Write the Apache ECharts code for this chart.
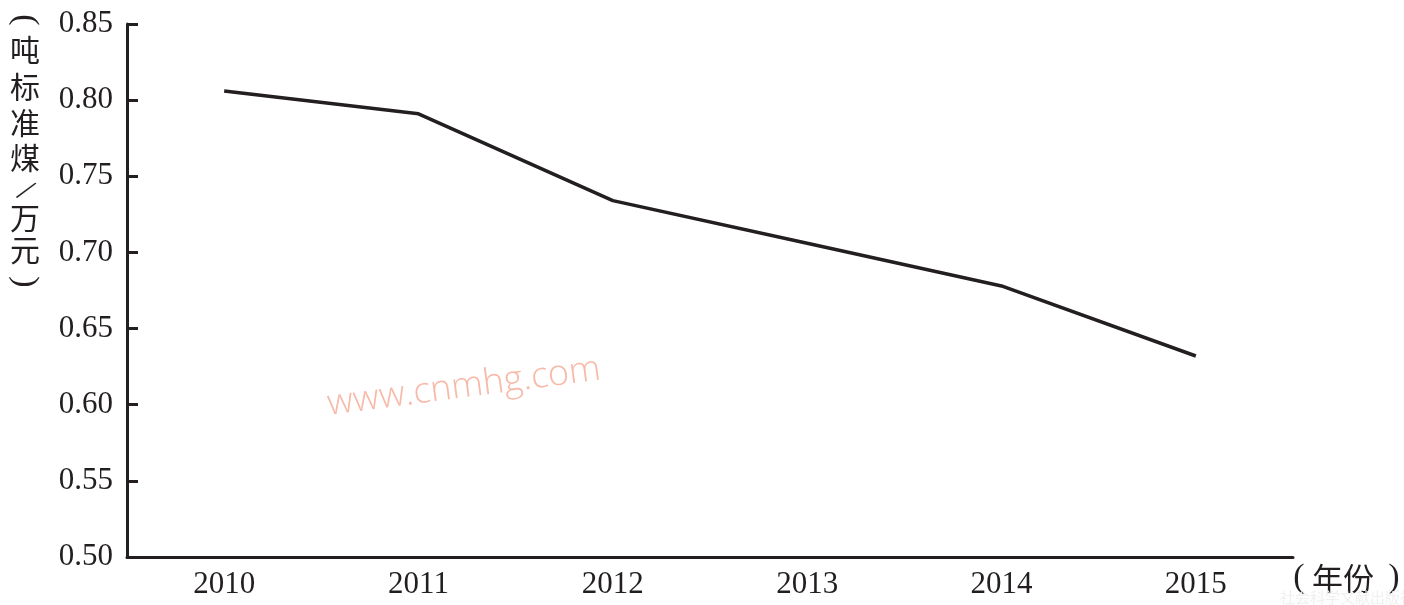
<!DOCTYPE html>
<html><head><meta charset="utf-8">
<script src="https://cdn.jsdelivr.net/npm/echarts@6/dist/echarts.min.js"></script>
<style>html,body{margin:0;padding:0;background:#fff}#c{width:1404px;height:605px}</style>
</head><body><div id="c"></div>
<script>
const years = ['2010','2011','2012','2013','2014','2015'];
const intensity = [0.806, 0.791, 0.734, 0.706, 0.678, 0.632];
const yTicks = {min:0.50, max:0.85, step:0.05};
const yNameChars = ['(','吨','标','准','煤','/','万','元',')'];
const xNameParts = ['(', '年份', ')'];

const chart = echarts.init(document.getElementById('c'));
const ink = '#231f20';
const cjk = '"Noto Sans CJK SC"';
const serif = '"Liberation Serif"';
const yNameCenters = [20, 50, 87, 123, 158, 192, 218, 250, 282];
const yNameRot = {'(': -Math.PI/2, ')': -Math.PI/2, '/': -0.6};
const yNameGraphics = yNameChars.map((ch, i) => ({
  type:'text', x:25, y:yNameCenters[i], rotation: yNameRot[ch] || 0,
  style:{text:ch, font:(ch in yNameRot ? '34px ' + serif : '30px ' + cjk), fill:ink, align:'center', verticalAlign:'middle'}
}));
const xNameX = [1299, 1343, 1394];
const xNameGraphics = xNameParts.map((s, i) => ({
  type:'text', x:xNameX[i], y:578,
  style:{text:s, font:(s.length === 1 ? '34px ' + serif : '31px ' + cjk), fill:ink, align:'center', verticalAlign:'middle'}
}));
chart.setOption({
  animation:false,
  grid:{left:127, right:111, top:24, bottom:48},
  xAxis:{type:'category', data:years, boundaryGap:true,
    axisLine:{lineStyle:{color:ink,width:3}},
    axisTick:{inside:true,length:12,lineStyle:{color:ink,width:3}},
    axisLabel:{color:ink,fontFamily:'Liberation Serif',fontSize:31,margin:12}},
  yAxis:{type:'value', min:yTicks.min, max:yTicks.max, interval:yTicks.step,
    splitLine:{show:false},
    axisLine:{show:true,lineStyle:{color:ink,width:3}},
    axisTick:{show:true,inside:true,length:11,lineStyle:{color:ink,width:3}},
    axisLabel:{color:ink,fontFamily:'Liberation Serif',fontSize:31,margin:14,formatter:v=>v.toFixed(2)}},
  series:[{type:'line',data:intensity,symbol:'none',lineStyle:{color:ink,width:3.5}}],
  graphic: yNameGraphics.concat(xNameGraphics, [
    {type:'text',x:464,y:387,rotation:0.13,style:{text:'www.cnmhg.com',font:'300 36px "Open Sans"',fill:'#f7b9a8',align:'center',verticalAlign:'middle'}},
    {type:'text',left:1280,top:590,style:{text:'社会科学文献出版社',font:'15px ' + cjk,fill:'#f0f0f0'}}
  ])
});
</script></body></html>
